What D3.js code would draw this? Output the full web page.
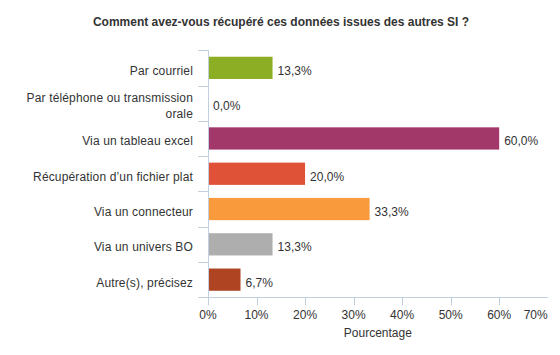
<!DOCTYPE html>
<html><head><meta charset="utf-8">
<script src="https://cdn.jsdelivr.net/npm/d3@7"></script>
<style>body{margin:0;background:#fff}svg{display:block;font-family:"Liberation Sans",Arial,sans-serif}</style>
</head><body>
<svg id="c" width="560" height="355"></svg>
<script>
const title = "Comment avez-vous récupéré ces données issues des autres SI ?";
const categories = [["Par courriel"],["Par téléphone ou transmission","orale"],["Via un tableau excel"],["Récupération d’un fichier plat"],["Via un connecteur"],["Via un univers BO"],["Autre(s), précisez"]];
const values = [13.3, 0.0, 60.0, 20.0, 33.3, 13.3, 6.7];
const colors = ["#8CAE24","#A2376A","#A2376A","#E05238","#F99A3C","#AEAEAE","#AE4422"];
const xTicks = [0,10,20,30,40,50,60,70];
const xTitle = "Pourcentage";

const svg = d3.select("#c");
const L = 208, R = 547.7, T = 50.2, B = 297.3;
const x = d3.scaleLinear().domain([0,70]).range([L,R]);
const y = d3.scaleBand().domain(d3.range(categories.length)).range([T,B]).paddingInner(0.37).paddingOuter(0.185);
const axisCol = "#C0D0E0", txt = "#333";

svg.append("text").attr("x",281).attr("y",25.5).attr("text-anchor","middle")
  .attr("font-size",12).attr("font-weight","bold").attr("fill",txt).text(title);

// y axis line and band ticks
svg.append("line").attr("x1",L+0.5).attr("x2",L+0.5).attr("y1",T).attr("y2",B).attr("stroke",axisCol);
const step = y.step();
d3.range(categories.length).forEach(i=>{
  const yy = Math.round(T + i*step)+0.5;
  svg.append("line").attr("x1",198).attr("x2",L).attr("y1",yy).attr("y2",yy).attr("stroke",axisCol);
});
// x axis
svg.append("line").attr("x1",198).attr("x2",R).attr("y1",Math.round(B)+0.5).attr("y2",Math.round(B)+0.5).attr("stroke",axisCol);
xTicks.forEach((t,i)=>{
  const xx = Math.round(x(t))+0.5;
  if (i < xTicks.length-1)
    svg.append("line").attr("x1",xx).attr("x2",xx).attr("y1",B).attr("y2",B+8).attr("stroke",axisCol);
  const last = i===xTicks.length-1;
  svg.append("text").attr("x", last? R : x(t)).attr("y",319)
    .attr("text-anchor", last? "end":"middle").attr("font-size",12).attr("fill",txt).text(t+"%");
});
svg.append("text").attr("x",(L+R)/2).attr("y",337).attr("text-anchor","middle").attr("font-size",12).attr("fill",txt).text(xTitle);

// bars
const fmt = v => v.toFixed(1).replace(".",",")+"%";
values.forEach((v,i)=>{
  const y0 = y(i), h = y.bandwidth(), c = y0 + h/2;
  if (v>0) svg.append("rect").attr("x",L+1).attr("y",y0).attr("width",x(v)-L-1).attr("height",h).attr("fill",colors[i]);
  svg.append("text").attr("x",x(v)+5).attr("y",c+7).attr("font-size",12).attr("fill",txt).text(fmt(v));
  const lines = categories[i], n = lines.length;
  lines.forEach((ln,j)=>{
    svg.append("text").attr("x",193).attr("y",c+7+(j-(n-1)/2)*16).attr("text-anchor","end")
      .attr("font-size",12).attr("letter-spacing","0.15px").attr("fill",txt).text(ln);
  });
});
</script>
</body></html>
